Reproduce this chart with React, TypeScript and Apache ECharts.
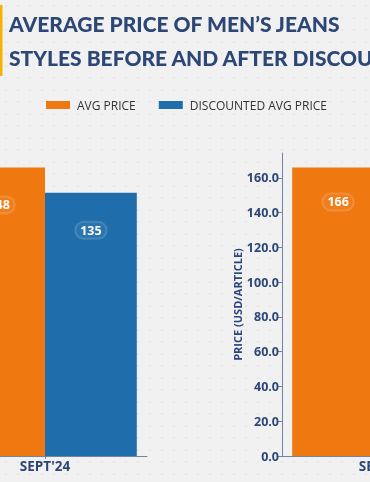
import React, { useEffect, useRef } from "react";
import * as echarts from "echarts";

const categories = ["SEPT'24"];
const leftAvgPrice = [148];
const leftDiscounted = [135];
const rightAvgPrice = [166];
const rightDiscounted = [150];
const yTicks = [0, 20, 40, 60, 80, 100, 120, 140, 160];
const seriesNames = ["AVG PRICE", "DISCOUNTED AVG PRICE"];
const titleLines = ["AVERAGE PRICE OF MEN\u2019S JEANS", "STYLES BEFORE AND AFTER DISCOUNTS"];
const yAxisTitle = "PRICE (USD/ARTICLE)";

const ORANGE = "#f07810";
const BLUE = "#1f6dab";
const NAVY = "#2c4777";
const AXIS = "#6f83a3";

const OFF = 60; // the chart canvas extends OFF px to the left of the visible view
const CW = 560;

function makePattern() {
  const c = document.createElement("canvas");
  c.width = 12;
  c.height = 12;
  const ctx = c.getContext("2d");
  if (ctx) {
    ctx.fillStyle = "#f1f1f1";
    ctx.fillRect(0, 0, 12, 12);
    ctx.fillStyle = "rgba(0,0,0,0.05)";
    ctx.beginPath();
    ctx.arc(6, 6, 1, 0, Math.PI * 2);
    ctx.fill();
  }
  return c;
}

export default function App() {
  const ref = useRef<HTMLDivElement>(null);
  useEffect(() => {
    if (!ref.current) return;
    const chart = echarts.init(ref.current, null, { renderer: "svg" });
    const label = (dist: number) => ({
      show: true,
      position: "insideTop",
      distance: dist,
      color: "#ffffff",
      fontFamily: "Open Sans",
      fontWeight: "bold",
      fontSize: 12.5,
      backgroundColor: "rgba(255,255,255,0.05)",
      borderColor: "rgba(255,255,255,0.15)",
      borderWidth: 1,
      borderRadius: 10,
      padding: [2, 5],
    });
    const xAxisCommon = {
      type: "category",
      data: categories,
      axisLine: { show: true, lineStyle: { color: AXIS, width: 1 } },
      axisTick: { show: true, alignWithLabel: true, length: 3, lineStyle: { color: AXIS } },
      axisLabel: {
        color: NAVY,
        fontFamily: "Open Sans",
        fontWeight: "bold",
        fontSize: 13.5,
        margin: 3,
      },
    };
    chart.setOption({
      animation: false,
      backgroundColor: { image: makePattern(), repeat: "repeat" },
      graphic: [
        { type: "rect", shape: { x: OFF, y: 5, width: 2.5, height: 71 }, style: { fill: "#f5b300" } },
        {
          type: "text",
          x: OFF + 9,
          y: 13,
          style: { text: titleLines[0], fill: NAVY, font: "900 21px Lato" },
        },
        {
          type: "text",
          x: OFF + 9,
          y: 47,
          style: { text: titleLines[1], fill: NAVY, font: "900 21px Lato" },
        },
      ],
      legend: {
        left: OFF + 46,
        top: 99,
        padding: 0,
        itemWidth: 24,
        itemHeight: 8,
        itemGap: 23,
        icon: "rect",
        data: seriesNames,
        textStyle: { color: "#333", fontFamily: "Open Sans", fontSize: 12, padding: [0, 0, 0, 2] },
      },
      grid: [
        { left: OFF - 57, top: 153, width: 204, height: 303 },
        { left: OFF + 282, top: 153, width: 204, height: 303 },
      ],
      xAxis: [
        { ...xAxisCommon, gridIndex: 0 },
        { ...xAxisCommon, gridIndex: 1 },
      ],
      yAxis: [
        { type: "value", gridIndex: 0, min: 0, max: 155.4, show: false, splitLine: { show: false } },
        {
          type: "value",
          gridIndex: 1,
          min: 0,
          max: 174.3,
          interval: 20,
          splitLine: { show: false },
          axisLine: { show: true, lineStyle: { color: AXIS, width: 1 } },
          axisTick: { show: true, length: 4, lineStyle: { color: AXIS }, customValues: yTicks },
          axisLabel: {
            customValues: yTicks,
            formatter: (v: number) => v.toFixed(1),
            color: NAVY,
            fontFamily: "Open Sans",
            fontWeight: "bold",
            fontSize: 12.5,
            margin: 3,
          },
          name: yAxisTitle,
          nameLocation: "middle",
          nameGap: 39,
          nameTextStyle: { color: NAVY, fontFamily: "Open Sans", fontWeight: "bold", fontSize: 11 },
        },
      ],
      series: [
        {
          name: seriesNames[0], type: "bar", xAxisIndex: 0, yAxisIndex: 0, data: leftAvgPrice,
          itemStyle: { color: ORANGE }, barGap: "0%", barCategoryGap: "10%", label: label(29),
        },
        {
          name: seriesNames[1], type: "bar", xAxisIndex: 0, yAxisIndex: 0, data: leftDiscounted,
          itemStyle: { color: BLUE }, barGap: "0%", barCategoryGap: "10%", label: label(29),
        },
        {
          name: seriesNames[0], type: "bar", xAxisIndex: 1, yAxisIndex: 1, data: rightAvgPrice,
          itemStyle: { color: ORANGE }, barGap: "0%", barCategoryGap: "10%", label: label(26),
        },
        {
          name: seriesNames[1], type: "bar", xAxisIndex: 1, yAxisIndex: 1, data: rightDiscounted,
          itemStyle: { color: BLUE }, barGap: "0%", barCategoryGap: "10%", label: label(26),
        },
      ],
    });
    return () => chart.dispose();
  }, []);
  return (
    <div style={{ position: "fixed", left: 0, top: 0, width: 370, height: 482, overflow: "hidden" }}>
      <div ref={ref} style={{ position: "absolute", left: -OFF, top: 0, width: CW, height: 482 }} />
    </div>
  );
}
